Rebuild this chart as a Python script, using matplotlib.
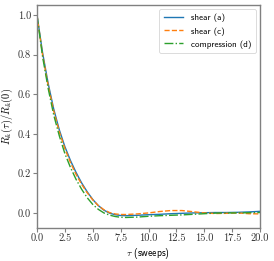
import matplotlib
matplotlib.use("Agg")
import matplotlib.pyplot as plt

plt.rcParams['mathtext.fontset'] = 'cm'
plt.rcParams['font.family'] = ['DejaVu Sans']

tau = [0, 0.5, 1.0, 1.5, 2.0, 2.5, 3.0, 3.5, 4.0, 4.5, 5.0, 5.5, 6.0, 6.5, 7.0, 7.5, 8.0,
       9, 10, 11, 12, 13, 14, 15, 16, 17, 18, 19, 20]
shear_a = [1.0, 0.81, 0.655, 0.525, 0.42, 0.335, 0.265, 0.205, 0.152, 0.107, 0.068, 0.037, 0.014,
           -0.001, -0.009, -0.013, -0.014, -0.012, -0.009, -0.007, -0.004, -0.002, 0.0, 0.001,
           0.002, 0.002, 0.003, 0.005, 0.008]
shear_c = [1.0, 0.80, 0.645, 0.515, 0.41, 0.325, 0.255, 0.195, 0.145, 0.102, 0.066, 0.037, 0.016,
           0.002, -0.005, -0.008, -0.008, -0.005, 0.0, 0.007, 0.012, 0.012, 0.006, 0.0,
           -0.003, -0.002, 0.0, -0.004, -0.005]
compression_d = [1.0, 0.79, 0.63, 0.495, 0.39, 0.30, 0.23, 0.17, 0.12, 0.077, 0.043, 0.018, 0.0,
                 -0.011, -0.018, -0.022, -0.023, -0.021, -0.017, -0.014, -0.012, -0.010, -0.007,
                 -0.004, -0.001, 0.0, 0.0, 0.001, 0.002]
labels = ["shear (a)", "shear (c)", "compression (d)"]
xticks = [0.0, 2.5, 5.0, 7.5, 10.0, 12.5, 15.0, 17.5, 20.0]
yticks = [0.0, 0.2, 0.4, 0.6, 0.8, 1.0]

fig = plt.figure(figsize=(2.74, 2.61), dpi=100)
ax = fig.add_axes([0.135, 0.128, 0.814, 0.853])
lw = 1.0
ax.plot(tau, shear_a, color='#1f77b4', ls='-', lw=lw, label=labels[0])
ax.plot(tau, shear_c, color='#ff7f0e', ls='--', lw=lw, label=labels[1])
ax.plot(tau, compression_d, color='#2ca02c', ls='-.', lw=lw, label=labels[2])
ax.set_xlim(0, 20)
ax.set_xticks(xticks)
ax.set_yticks(yticks)
ax.set_xticklabels([f"{v:.1f}" for v in xticks], fontfamily='cmr10', fontsize=7.5)
ax.set_yticklabels([f"{v:.1f}" for v in yticks], fontfamily='cmr10', fontsize=7.5)
for s in ax.spines.values():
    s.set_color('#808080')
    s.set_linewidth(1.0)
ax.tick_params(colors='#808080', labelcolor='#333333', length=2.7, width=0.8, pad=1.5)
ax.set_xlabel(r"$\tau$ (sweeps)", fontsize=7, fontfamily='cmss10', labelpad=2)
ax.set_ylabel(r"$R_{\mathbb{k}}(\tau)/R_{\mathbb{k}}(0)$", fontsize=7.5, labelpad=2)
leg = ax.legend(loc='upper right', prop={'family': 'cmss10', 'size': 6.5},
                handlelength=2.2, borderpad=0.5, labelspacing=0.5)
leg.get_frame().set_linewidth(0.6)
fig.savefig("out.png", dpi=100)
